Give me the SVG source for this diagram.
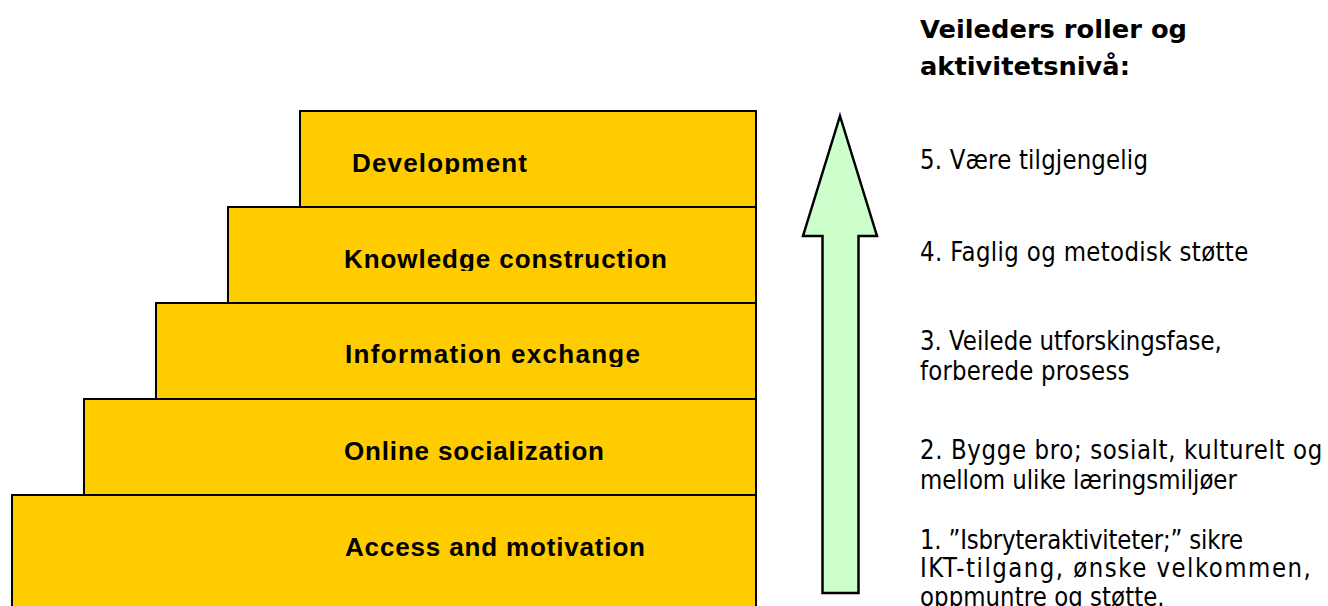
<svg xmlns="http://www.w3.org/2000/svg" width="1328" height="606" viewBox="0 0 1328 606">
  <style>
    .step { fill: #ffcc00; stroke: #000; stroke-width: 2; }
    .label { font-family: "Liberation Sans", Arial, sans-serif; font-weight: bold; font-size: 26px; fill: #000; }
    .title { font-family: "DejaVu Sans", Verdana, sans-serif; font-weight: bold; font-size: 24px; fill: #000; }
    .role { font-family: "DejaVu Sans", Verdana, sans-serif; font-size: 26px; fill: #000; }
    .up { fill: #ccffcc; stroke: #000; stroke-width: 2.5; stroke-linejoin: miter; }
  </style>
  <defs>
    <!-- descenders of the step labels are cut at the line box -->
    <clipPath id="clip-dev" clipPathUnits="userSpaceOnUse"><rect x="300" y="111" width="456" height="63"/></clipPath>
    <clipPath id="clip-know" clipPathUnits="userSpaceOnUse"><rect x="228" y="207" width="528" height="64"/></clipPath>
    <clipPath id="clip-info" clipPathUnits="userSpaceOnUse"><rect x="156" y="303" width="600" height="64"/></clipPath>
  </defs>
  <rect width="1328" height="606" fill="#fff"/>

  <!-- staircase, bottom step first -->
  <g id="step-access">
    <rect class="step" x="12" y="495" width="744" height="125"/>
    <text class="label" x="345" y="556" textLength="300" lengthAdjust="spacing">Access and motivation</text>
  </g>
  <g id="step-online">
    <rect class="step" x="84" y="399" width="672" height="96"/>
    <text class="label" x="344" y="460" textLength="260" lengthAdjust="spacing">Online socialization</text>
  </g>
  <g id="step-information">
    <rect class="step" x="156" y="303" width="600" height="96"/>
    <text class="label" x="345" y="363" textLength="295" lengthAdjust="spacing" clip-path="url(#clip-info)">Information exchange</text>
  </g>
  <g id="step-knowledge">
    <rect class="step" x="228" y="207" width="528" height="96"/>
    <text class="label" x="344" y="268" textLength="323" lengthAdjust="spacing" clip-path="url(#clip-know)">Knowledge construction</text>
  </g>
  <g id="step-development">
    <rect class="step" x="300" y="111" width="456" height="96"/>
    <text class="label" x="352" y="172" textLength="175" lengthAdjust="spacing" clip-path="url(#clip-dev)">Development</text>
  </g>

  <!-- rising arrow -->
  <g id="connectors">
    <path class="up" d="M840,116 L877,236 L858.5,236 L858.5,593 L822.5,593 L822.5,236 L803,236 Z"/>
  </g>

  <!-- supervisor roles -->
  <g id="roles-title">
    <text class="title" x="920" y="38" textLength="267" lengthAdjust="spacingAndGlyphs">Veileders roller og</text>
    <text class="title" x="920" y="75" textLength="210" lengthAdjust="spacingAndGlyphs">aktivitetsnivå:</text>
  </g>
  <!-- role texts: glyphs narrowed to 88 %, lengths given in local units -->
  <g id="roles" transform="translate(920,0) scale(0.88,1)">
    <g id="role-5">
      <text class="role" x="0" y="169" textLength="259" lengthAdjust="spacing">5. Være tilgjengelig</text>
    </g>
    <g id="role-4">
      <text class="role" x="0" y="261" textLength="373" lengthAdjust="spacing">4. Faglig og metodisk støtte</text>
    </g>
    <g id="role-3">
      <text class="role" x="0" y="350" textLength="343" lengthAdjust="spacing">3. Veilede utforskingsfase,</text>
      <text class="role" x="0" y="380" textLength="238" lengthAdjust="spacing">forberede prosess</text>
    </g>
    <g id="role-2">
      <text class="role" x="0" y="459" textLength="457" lengthAdjust="spacing">2. Bygge bro; sosialt, kulturelt og</text>
      <text class="role" x="0" y="489" textLength="360" lengthAdjust="spacing">mellom ulike læringsmiljøer</text>
    </g>
    <g id="role-1">
      <text class="role" x="0" y="549" textLength="367" lengthAdjust="spacing">1. ”Isbryteraktiviteter;” sikre</text>
      <text class="role" x="0" y="577" textLength="444" lengthAdjust="spacing">IKT-tilgang, ønske velkommen,</text>
      <text class="role" x="0" y="606" textLength="278" lengthAdjust="spacing">oppmuntre og støtte.</text>
    </g>
  </g>
</svg>
